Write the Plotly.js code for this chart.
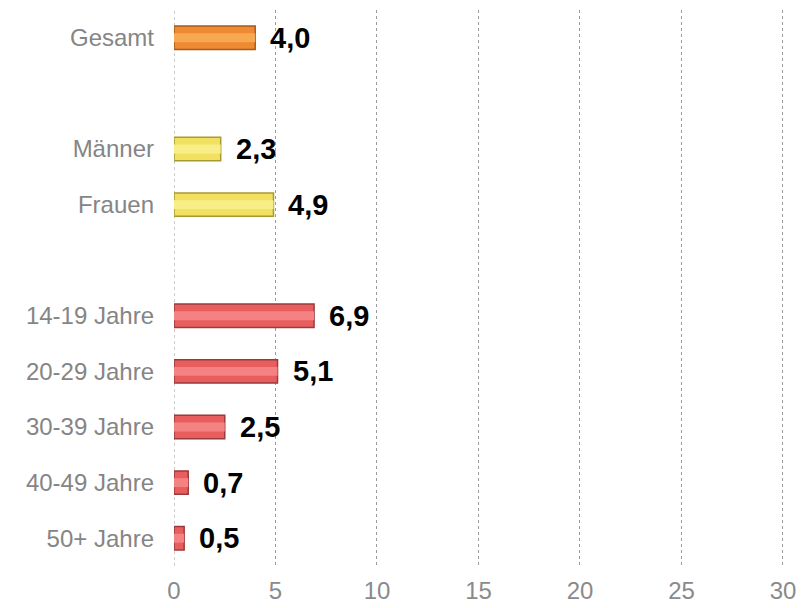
<!DOCTYPE html>
<html>
<head>
<meta charset="utf-8">
<script src="https://cdn.plot.ly/plotly-3.0.1.min.js"></script>
<style>html,body{margin:0;padding:0;background:#fff;}#chart{width:809px;height:608px;}</style>
</head>
<body>
<div id="chart"></div>
<script>
const categories = ["Gesamt", " ", "Männer", "Frauen", "  ", "14-19 Jahre", "20-29 Jahre", "30-39 Jahre", "40-49 Jahre", "50+ Jahre"];
const values = [4.0, null, 2.3, 4.9, null, 6.9, 5.1, 2.5, 0.7, 0.5];
const labels = ["4,0", "", "2,3", "4,9", "", "6,9", "5,1", "2,5", "0,7", "0,5"];
const groupColors = ["#EE8A32", null, "#F2E060", "#F2E060", null, "#E85E5E", "#E85E5E", "#E85E5E", "#E85E5E", "#E85E5E"];
const lineColors = ["#A85A1A", null, "#A89A30", "#A89A30", null, "#9A3A3A", "#9A3A3A", "#9A3A3A", "#9A3A3A", "#9A3A3A"];
const lightColors = ["#F8A850", null, "#F8EE88", "#F8EE88", null, "#F48282", "#F48282", "#F48282", "#F48282", "#F48282"];
const xTicks = [0, 5, 10, 15, 20, 25, 30];

const base = {
  type: 'bar', orientation: 'h', y: categories, x: values,
  width: 0.42,
  marker: {color: groupColors, line: {color: lineColors, width: 1.5}},
  hoverinfo: 'skip', showlegend: false
};
const highlight = {
  type: 'bar', orientation: 'h', y: categories, x: values,
  width: 0.16,
  marker: {color: lightColors, line: {width: 0}},
  hoverinfo: 'skip', showlegend: false
};

const annotations = [];
categories.forEach((c, i) => {
  if (values[i] !== null) {
    annotations.push({
      x: values[i], y: c, xref: 'x', yref: 'y', text: labels[i],
      showarrow: false, xanchor: 'left', yanchor: 'middle', xshift: 13,
      font: {family: 'Liberation Sans, Arial, sans-serif', size: 29, color: '#000', weight: 'bold'}
    });
  }
});

const layout = {
  width: 809, height: 608,
  margin: {l: 174, r: 24, t: 10, b: 42},
  paper_bgcolor: '#fff', plot_bgcolor: '#fff',
  barmode: 'overlay',
  font: {family: 'Liberation Sans, Arial, sans-serif'},
  xaxis: {
    range: [0, 30.1], tickvals: xTicks, ticktext: xTicks.map(String),
    showgrid: true, gridcolor: '#9a9a9a', griddash: 'dot', gridwidth: 1,
    zeroline: false, showline: false, ticks: '',
    tickfont: {size: 24, color: '#8a8a8a'}, ticklabelstandoff: 8, fixedrange: true
  },
  yaxis: {
    type: 'category', categoryorder: 'array', categoryarray: categories,
    autorange: 'reversed', showgrid: false, zeroline: false, showline: false, ticks: '',
    tickfont: {size: 24, color: '#858585'}, ticklabelstandoff: 19
  },
  shapes: [{type: 'line', xref: 'x', yref: 'paper', x0: 0, x1: 0, y0: 0, y1: 1,
    line: {color: '#9a9a9a', width: 1, dash: 'dot'}, layer: 'below'}],
  annotations: annotations
};

Plotly.newPlot('chart', [base, highlight], layout, {displayModeBar: false, staticPlot: true});
</script>
</body>
</html>
